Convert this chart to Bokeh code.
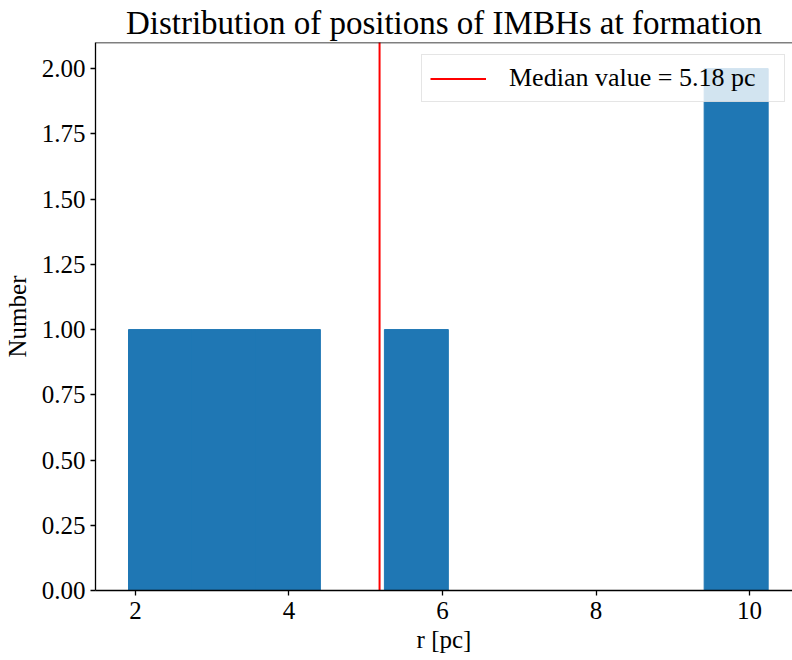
from bokeh.plotting import figure
from bokeh.models import Range1d, FixedTicker, NumeralTickFormatter, Span, Legend, LegendItem
from bokeh.embed import file_html
from bokeh.resources import INLINE

# ---- data ----
bin_edges = [1.909, 2.742, 3.576, 4.409, 5.243, 6.076, 6.909, 7.743, 8.576, 9.409, 10.243]
counts = [1, 1, 1, 0, 1, 0, 0, 0, 0, 2]
median_value = 5.18
x_ticks = [2, 4, 6, 8, 10]
y_ticks = [0.0, 0.25, 0.5, 0.75, 1.0, 1.25, 1.5, 1.75, 2.0]

FONT = "Liberation Serif"
X0, X1 = 1.479, 10.56
Y0, Y1 = 0.0, 2.1

p = figure(width=792, height=660, output_backend="svg", toolbar_location=None,
           x_range=Range1d(X0, X1), y_range=Range1d(Y0, Y1),
           min_border_left=95, min_border_right=0, min_border_top=42, min_border_bottom=70,
           title="Distribution of positions of IMBHs at formation")

p.title.align = "center"
p.title.text_font = FONT
p.title.text_font_size = "33px"
p.title.text_font_style = "normal"
p.title.text_color = "black"
p.title.standoff = 3

lefts = [bin_edges[i] for i in range(len(counts)) if counts[i] > 0]
rights = [bin_edges[i + 1] for i in range(len(counts)) if counts[i] > 0]
tops = [c for c in counts if c > 0]
p.quad(left=lefts, right=rights, top=tops, bottom=0, fill_color="#1f77b4",
       line_color="#1f77b4", line_width=1)

med = p.line(x=[median_value, median_value], y=[Y0 - 1, Y1 + 1], line_color="red", line_width=2)

legend = Legend(items=[LegendItem(label="Median value = 5.18 pc", renderers=[med])],
                location=(326, 488), glyph_width=56, glyph_height=29, label_standoff=23,
                label_width=267, padding=8, margin=0,
                label_text_font=FONT, label_text_font_size="26px", label_text_color="#000000",
                background_fill_color="white", background_fill_alpha=0.8,
                border_line_color="#cccccc", border_line_width=1)
p.add_layout(legend)

p.grid.visible = False
p.outline_line_color = None
p.add_layout(Span(location=Y1, dimension="width", line_color="black", line_width=1.5))

for ax in (p.xaxis[0], p.yaxis[0]):
    ax.axis_line_color = "black"
    ax.axis_line_width = 1.3
    ax.major_tick_line_color = "black"
    ax.major_tick_line_width = 1.3
    ax.major_tick_out = 5
    ax.major_tick_in = 0
    ax.minor_tick_line_color = None
    ax.major_label_text_font = FONT
    ax.major_label_text_font_size = "25px"
    ax.major_label_text_color = "black"
    ax.axis_label_text_font = FONT
    ax.axis_label_text_font_size = "25px"
    ax.axis_label_text_font_style = "normal"
    ax.axis_label_text_color = "black"

p.xaxis.ticker = FixedTicker(ticks=x_ticks)
p.yaxis.ticker = FixedTicker(ticks=y_ticks)
p.yaxis.formatter = NumeralTickFormatter(format="0.00")
p.xaxis.axis_label = "r [pc]"
p.yaxis.axis_label = "Number"
p.xaxis.major_label_standoff = 6
p.xaxis.axis_label_standoff = 4
p.yaxis.major_label_standoff = 5
p.yaxis.axis_label_standoff = 8

open("out.html", "w").write(file_html(p, INLINE))
